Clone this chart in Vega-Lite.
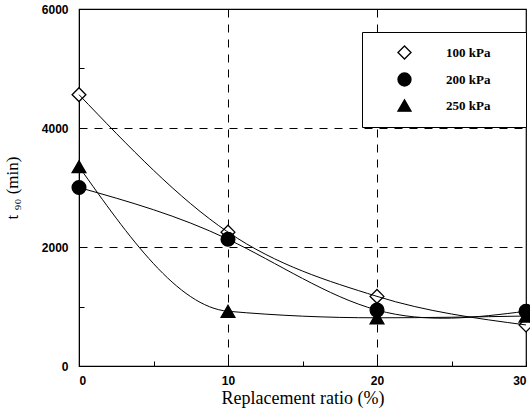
{
  "$schema": "https://vega.github.io/schema/vega-lite/v6.json",
  "width": 447,
  "height": 357,
  "autosize": {"type": "none"},
  "padding": {"left": 79, "top": 9, "right": 4, "bottom": 48},
  "background": "white",
  "config": {
    "view": {"stroke": "black", "strokeWidth": 1.2},
    "axis": {
      "labelFont": "Liberation Sans",
      "labelFontWeight": "bold",
      "labelFontSize": 12,
      "labelColor": "black",
      "titleFont": "Liberation Serif",
      "titleFontWeight": "normal",
      "titleColor": "black",
      "domainColor": "black",
      "tickColor": "black",
      "gridColor": "black",
      "gridDash": [8, 7],
      "gridWidth": 1
    },
    "legend": {
      "strokeColor": "black",
      "fillColor": "white",
      "padding": 13,
      "symbolOffset": 22,
      "labelOffset": 34,
      "rowPadding": 8,
      "symbolSize": 170,
      "symbolStrokeWidth": 1.3,
      "labelFont": "Liberation Serif",
      "labelFontWeight": "bold",
      "labelFontSize": 13,
      "labelColor": "black",
      "titleOrient": "right",
      "titleColor": "white",
      "titleFontSize": 16,
      "titlePadding": 9
    }
  },
  "data": {
    "values": [
      {"ratio": 0, "t90": 4560, "pressure": "100 kPa"},
      {"ratio": 10, "t90": 2250, "pressure": "100 kPa"},
      {"ratio": 20, "t90": 1170, "pressure": "100 kPa"},
      {"ratio": 30, "t90": 690, "pressure": "100 kPa"},
      {"ratio": 0, "t90": 3000, "pressure": "200 kPa"},
      {"ratio": 10, "t90": 2130, "pressure": "200 kPa"},
      {"ratio": 20, "t90": 940, "pressure": "200 kPa"},
      {"ratio": 30, "t90": 920, "pressure": "200 kPa"},
      {"ratio": 0, "t90": 3350, "pressure": "250 kPa"},
      {"ratio": 10, "t90": 920, "pressure": "250 kPa"},
      {"ratio": 20, "t90": 810, "pressure": "250 kPa"},
      {"ratio": 30, "t90": 840, "pressure": "250 kPa"}
    ]
  },
  "layer": [
    {
      "mark": {"type": "point", "filled": true, "stroke": "black", "strokeWidth": 1.3, "opacity": 1},
      "encoding": {
        "x": {
          "field": "ratio", "type": "quantitative",
          "scale": {"domain": [0, 30], "nice": false},
          "axis": {
            "title": "Replacement ratio  (%)",
            "titleFontSize": 18,
            "values": [0, 5, 10, 15, 20, 25, 30],
            "labelExpr": "datum.value % 10 == 0 ? datum.label : ''",
            "tickSize": -5,
            "labelPadding": 14,
            "titlePadding": 3,
            "grid": true,
            "gridOpacity": {"condition": {"test": "datum.value == 10 || datum.value == 20", "value": 1}, "value": 0}
          }
        },
        "y": {
          "field": "t90", "type": "quantitative",
          "scale": {"domain": [0, 6000], "nice": false},
          "axis": {
            "title": "t ₉₀  (min)",
            "titleFontSize": 17,
            "values": [0, 1000, 2000, 3000, 4000, 5000, 6000],
            "labelExpr": "datum.value % 2000 == 0 ? datum.label : ''",
            "format": "d",
            "tickSize": -5,
            "labelPadding": 16,
            "titlePadding": 20,
            "grid": true,
            "gridOpacity": {"condition": {"test": "datum.value == 2000 || datum.value == 4000", "value": 1}, "value": 0}
          }
        },
        "shape": {
          "field": "pressure", "type": "nominal",
          "scale": {"domain": ["100 kPa", "200 kPa", "250 kPa"], "range": ["diamond", "circle", "triangle-up"]},
          "legend": {"title": "M", "orient": "none", "legendX": 283, "legendY": 23}
        },
        "fill": {
          "field": "pressure", "type": "nominal",
          "scale": {"domain": ["100 kPa", "200 kPa", "250 kPa"], "range": ["white", "black", "black"]},
          "legend": {"title": "M", "orient": "none", "legendX": 283, "legendY": 23}
        },
        "size": {"value": 190}
      }
    },
    {
      "transform": [{"filter": "datum.pressure != '200 kPa'"}],
      "mark": {"type": "line", "interpolate": "monotone", "color": "black", "strokeWidth": 1},
      "encoding": {
        "x": {"field": "ratio", "type": "quantitative"},
        "y": {"field": "t90", "type": "quantitative"},
        "detail": {"field": "pressure", "type": "nominal"}
      }
    },
    {
      "transform": [{"filter": "datum.pressure == '200 kPa'"}],
      "mark": {"type": "line", "interpolate": "natural", "color": "black", "strokeWidth": 1},
      "encoding": {
        "x": {"field": "ratio", "type": "quantitative"},
        "y": {"field": "t90", "type": "quantitative"},
        "detail": {"field": "pressure", "type": "nominal"}
      }
    }
  ]
}
